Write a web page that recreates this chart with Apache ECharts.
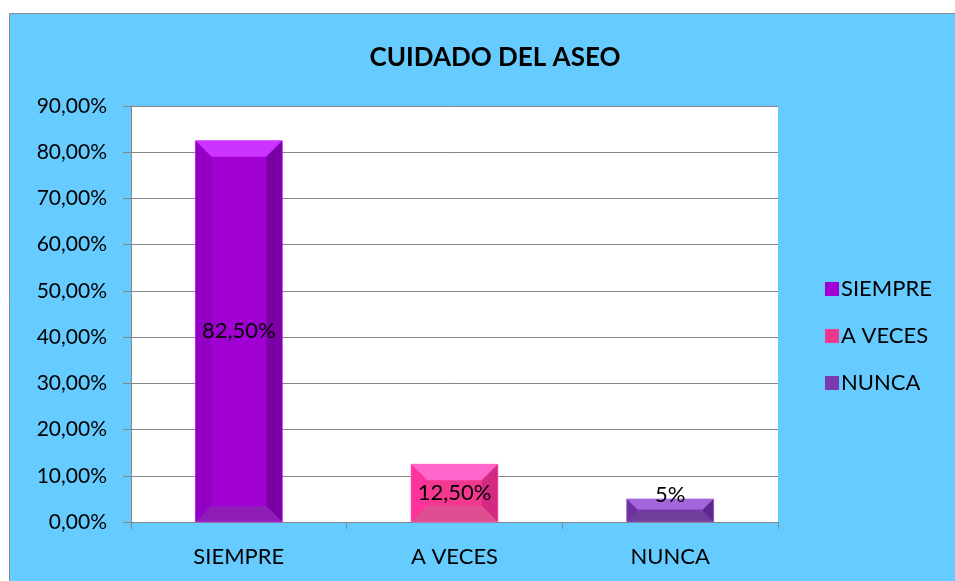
<!DOCTYPE html>
<html>
<head>
<meta charset="utf-8">
<script src="https://cdn.jsdelivr.net/npm/echarts@6/dist/echarts.min.js"></script>
<style>
  html, body { margin: 0; padding: 0; background: #fff; }
  #chart { width: 955px; height: 581px; }
</style>
</head>
<body>
<div id="chart"></div>
<script>
const categories = ['SIEMPRE', 'A VECES', 'NUNCA']
const values = [82.5, 12.5, 5]
const valueLabels = ['82,50%', '12,50%', '5%']
const yTicks = [0, 10, 20, 30, 40, 50, 60, 70, 80, 90]

// face, top, left, right, bottom bevel colours per bar
const shades = [
  { face: '#A000D2', top: '#CC33FF', left: '#9200C4', right: '#7A00A3', bottom: '#8E1CB6' },
  { face: '#F2388F', top: '#FF66CC', left: '#FF3399', right: '#D22A80', bottom: '#E04E92' },
  { face: '#7B3AB0', top: '#A466DA', left: '#7030A0', right: '#5E268E', bottom: '#6F3E98' }
]

const font = 'Lato, "Open Sans", sans-serif'

function bevelBar (params, api) {
  const idx = api.value(0)
  const top = api.coord([idx, api.value(1)])
  const base = api.coord([idx, 0])
  const w = api.size([1, 0])[0] * 0.403
  const x0 = top[0] - w / 2
  const x1 = top[0] + w / 2
  const y0 = top[1]
  const y1 = base[1]
  const h = y1 - y0
  const b = Math.min(16, h * 0.46)
  const c = shades[idx]
  const poly = (pts, fill) => ({ type: 'polygon', shape: { points: pts }, style: { fill: fill } })
  const labelY = h < 30 ? y0 - 4 : (y0 + y1) / 2
  return {
    type: 'group',
    children: [
      poly([[x0, y0], [x1, y0], [x1, y1], [x0, y1]], c.face),
      poly([[x0, y0], [x1, y0], [x1 - b, y0 + b], [x0 + b, y0 + b]], c.top),
      poly([[x0, y0], [x0 + b, y0 + b], [x0 + b, y1 - b], [x0, y1]], c.left),
      poly([[x1, y0], [x1, y1], [x1 - b, y1 - b], [x1 - b, y0 + b]], c.right),
      poly([[x0, y1], [x0 + b, y1 - b], [x1 - b, y1 - b], [x1, y1]], c.bottom),
      {
        type: 'rect',
        shape: { x: x0, y: y0, width: w, height: h },
        style: { fill: 'none', stroke: c.top, lineWidth: 1, opacity: 0.6 }
      },
      {
        type: 'text',
        style: {
          text: valueLabels[idx],
          x: top[0],
          y: labelY,
          align: 'center',
          verticalAlign: 'middle',
          fill: '#000',
          font: '22px ' + font
        }
      }
    ]
  }
}

const chart = echarts.init(document.getElementById('chart'))
chart.setOption({
  backgroundColor: '#fff',
  animation: false,
  graphic: [{
    type: 'rect',
    z: -10,
    shape: { x: 9.5, y: 13.5, width: 960, height: 580 },
    style: { fill: '#66CCFF', stroke: '#8C8C8C', lineWidth: 1 }
  }],
  title: {
    text: 'CUIDADO DEL ASEO',
    left: 490,
    textAlign: 'center',
    top: 40,
    textStyle: { fontFamily: font, fontWeight: 'bold', fontSize: 26, color: '#000' }
  },
  legend: {
    orient: 'vertical',
    left: 820,
    top: 273,
    itemWidth: 14,
    itemHeight: 14,
    itemGap: 25,
    icon: 'rect',
    textStyle: { fontFamily: font, fontSize: 22, color: '#000', padding: [0, 0, 0, -3] },
    data: categories
  },
  grid: {
    left: 131,
    right: 177,
    top: 106,
    bottom: 59,
    show: true,
    backgroundColor: '#fff',
    borderWidth: 0
  },
  xAxis: {
    type: 'category',
    data: categories,
    boundaryGap: true,
    axisLine: { lineStyle: { color: '#868686' } },
    axisTick: { show: true, length: 7, lineStyle: { color: '#868686' } },
    axisLabel: { fontFamily: font, fontSize: 22, color: '#000', margin: 24 }
  },
  yAxis: {
    type: 'value',
    min: yTicks[0],
    max: yTicks[yTicks.length - 1],
    interval: 10,
    axisLine: { show: true, lineStyle: { color: '#868686' } },
    axisTick: { show: true, length: 8, lineStyle: { color: '#868686' } },
    splitLine: { lineStyle: { color: '#868686' } },
    axisLabel: {
      fontFamily: font,
      fontSize: 21,
      color: '#000',
      margin: 24,
      formatter: v => v.toFixed(2).replace('.', ',') + '%'
    }
  },
  series: categories.map((name, i) => ({
    name: name,
    type: 'custom',
    renderItem: bevelBar,
    itemStyle: { color: shades[i].face },
    encode: { x: 0, y: 1 },
    data: [[i, values[i]]]
  }))
})
</script>
</body>
</html>
